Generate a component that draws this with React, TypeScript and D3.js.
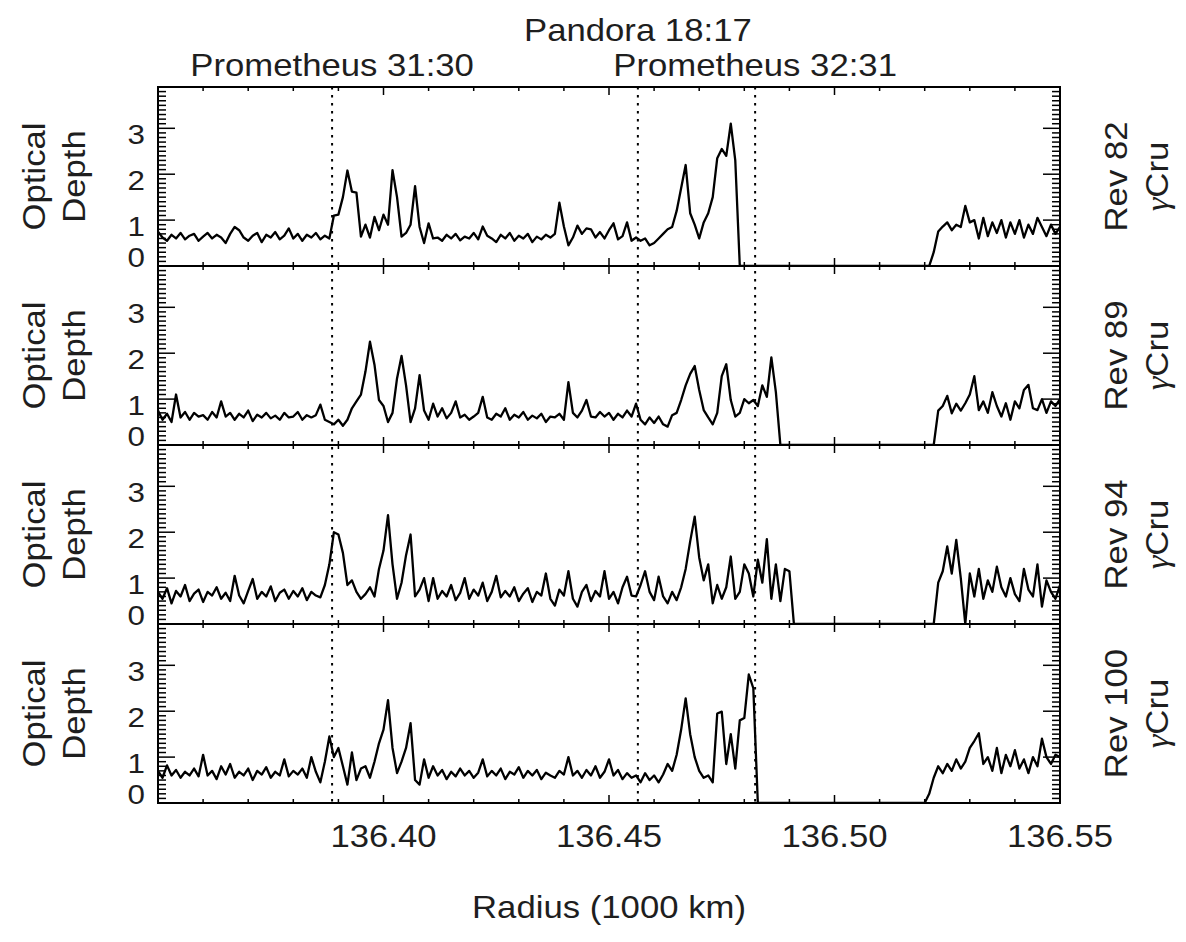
import * as d3 from 'd3';
import type { ReactNode } from 'react';

// radius grid: 136.350 .. 136.550 (1000 km), one sample every 0.001
const R_START = 136.35;
const R_STEP = 0.001;

// optical depth profiles
const tauRev82 = [
  0.75, 0.62, 0.55, 0.68, 0.6, 0.72, 0.58, 0.66, 0.7, 0.55,
  0.64, 0.72, 0.6, 0.68, 0.62, 0.5, 0.7, 0.85, 0.78, 0.62,
  0.55, 0.66, 0.72, 0.52, 0.68, 0.62, 0.74, 0.58, 0.66, 0.82,
  0.6, 0.7, 0.55, 0.68, 0.62, 0.72, 0.58, 0.66,
  0.6, 1.1, 1.12, 1.5, 2.08, 1.62, 1.6, 0.64, 0.9, 0.62,
  1.07, 0.78, 1.12, 0.9, 2.09, 1.5, 0.64, 0.72, 0.9, 1.74,
  0.85, 0.5, 0.93, 0.6,
  0.62, 0.55, 0.68, 0.6, 0.7, 0.56, 0.64, 0.6, 0.72, 0.58,
  0.86, 0.66, 0.6, 0.52, 0.68, 0.6, 0.72, 0.55, 0.66, 0.6,
  0.7, 0.52, 0.64, 0.58, 0.68, 0.62,
  0.7, 1.38, 0.86, 0.45, 0.62, 0.88, 0.7, 0.82, 0.8, 0.62,
  0.74, 0.6, 0.78, 0.93, 0.58, 0.65, 0.95, 0.55, 0.62, 0.55,
  0.6, 0.45, 0.5, 0.6, 0.7, 0.8, 0.85, 1.2, 1.7, 2.2,
  1.15, 0.9, 0.6, 0.95, 1.15, 1.5, 2.35, 2.55, 2.4, 3.1,
  2.3,
  0, 0, 0, 0, 0, 0, 0, 0, 0, 0,
  0, 0, 0, 0, 0, 0, 0, 0, 0, 0,
  0, 0, 0, 0, 0, 0, 0, 0, 0, 0,
  0, 0, 0, 0, 0, 0, 0, 0, 0, 0,
  0, 0, 0,
  0.3,
  0.75, 0.86, 0.95, 0.78, 0.9, 0.85, 1.31, 0.95, 1.0, 0.6,
  1.05, 0.65, 0.95, 0.72, 1.0, 0.62, 0.95, 0.7, 1.0, 0.62,
  0.9, 0.7, 1.05, 0.85, 0.65, 0.9, 0.7, 0.85,
];

const tauRev89 = [
  0.75, 0.55, 0.68, 0.5, 1.1, 0.6, 0.72, 0.55, 0.7, 0.62,
  0.65, 0.55, 0.72, 0.6, 0.95, 0.62, 0.7, 0.55, 0.68, 0.6,
  0.75, 0.52, 0.66, 0.6, 0.7, 0.58, 0.64, 0.55, 0.7, 0.6,
  0.62, 0.72, 0.55, 0.65, 0.6, 0.65, 0.88, 0.55,
  0.5, 0.45, 0.55, 0.42, 0.55, 0.8, 0.95, 1.1, 1.6, 2.25,
  1.75, 0.98, 0.85, 0.5, 0.7, 1.45, 1.94, 1.3, 0.5, 0.8,
  1.52, 0.75, 0.55, 0.9,
  0.62, 0.8, 0.58, 0.7, 0.95, 0.6, 0.66, 0.55, 0.62, 0.7,
  1.05, 0.6, 0.55, 0.68, 0.62, 0.8, 0.55, 0.66, 0.6, 0.72,
  0.55, 0.64, 0.58, 0.68, 0.5, 0.62,
  0.6, 0.68, 0.55, 1.37, 0.7, 0.6, 0.75, 0.98, 0.62, 0.6,
  0.72, 0.62, 0.7, 0.55, 0.68, 0.6, 0.75, 0.62, 0.9, 0.55,
  0.45, 0.6, 0.48, 0.62, 0.45, 0.4, 0.65, 0.7, 0.98, 1.3,
  1.55, 1.72, 1.2, 0.76, 0.6, 0.45, 0.7, 1.5, 1.76, 0.98,
  0.62, 0.7, 1.0, 0.91, 0.98, 0.85, 1.3, 1.05, 1.91, 1.15,
  0, 0, 0, 0, 0, 0, 0, 0, 0, 0,
  0, 0, 0, 0, 0, 0, 0, 0, 0, 0,
  0, 0, 0, 0, 0, 0, 0, 0, 0, 0,
  0, 0, 0, 0, 0,
  0.75, 0.85, 1.07, 0.69, 0.9, 0.75, 0.91, 1.1, 1.5, 0.76,
  0.95, 0.7, 1.15, 0.85, 0.62, 0.91, 0.55, 0.95, 0.8, 1.2,
  1.31, 0.8, 0.76, 1.0, 0.7, 0.95, 0.85, 1.0,
];

const tauRev94 = [
  0.7, 0.55, 0.78, 0.45, 0.72, 0.6, 0.85, 0.5, 0.66, 0.75,
  0.48, 0.7, 0.62, 0.8, 0.55, 0.68, 0.5, 1.05, 0.62, 0.45,
  0.72, 0.98, 0.55, 0.7, 0.6, 0.82, 0.5, 0.68, 0.75, 0.55,
  0.72, 0.6, 0.78, 0.52, 0.7, 0.62, 0.58, 0.85,
  1.3, 2.0, 1.95, 1.55, 0.85, 0.95, 0.7, 0.55, 0.65, 0.8,
  0.6, 1.2, 1.6, 2.37, 1.3, 0.55, 0.9, 1.5, 1.95, 0.6,
  0.75, 1.0, 0.5, 1.0,
  0.55, 0.72, 0.6, 0.85, 0.52, 0.68, 1.0, 0.55, 0.75, 0.62,
  0.9, 0.5, 0.7, 1.05, 0.58, 0.72, 0.6, 0.8, 0.5, 0.66,
  0.78, 0.48, 0.7, 0.62, 1.1, 0.55,
  0.4, 0.75, 0.62, 1.15, 0.55, 0.38, 0.7, 0.85, 0.5, 0.72,
  0.6, 1.15, 0.55, 0.7, 0.45, 0.8, 1.03, 0.62, 0.6, 0.85,
  1.15, 0.7, 0.52, 1.03, 0.6, 0.45, 0.7, 0.52, 0.8, 1.2,
  1.8, 2.34, 1.45, 0.95, 1.3, 0.45, 0.85, 0.55, 0.8, 1.47,
  0.55, 0.7, 1.3, 1.1, 0.6, 1.4, 0.9, 1.85, 0.55, 1.3,
  0.5, 1.2, 1.15,
  0, 0, 0, 0, 0, 0, 0, 0, 0, 0,
  0, 0, 0, 0, 0, 0, 0, 0, 0, 0,
  0, 0, 0, 0, 0, 0, 0, 0, 0, 0,
  0, 0,
  0.9, 1.15, 1.69, 1.1, 1.83, 1.0, 0, 1.1, 0.6, 1.2,
  0.55, 0.95, 0.7, 1.25, 0.8, 0.6, 1.0, 0.65, 0.5, 1.2,
  0.75, 0.6, 1.3, 0.38, 0.95, 0.7, 0.55, 0.85,
];

const tauRev100 = [
  0.7, 0.55, 0.82, 0.6, 0.72, 0.55, 0.68, 0.6, 0.75, 0.58,
  1.05, 0.6, 0.7, 0.52, 0.8, 0.62, 0.85, 0.55, 0.68, 0.6,
  0.75, 0.5, 0.7, 0.62, 0.78, 0.55, 0.68, 0.6, 0.95, 0.58,
  0.7, 0.62, 0.75, 0.55, 1.0, 0.68, 0.45, 0.9,
  1.45, 1.0, 1.2, 0.8, 0.4, 1.1, 0.5, 0.75, 0.8, 0.55,
  0.9, 1.3, 1.6, 2.24, 1.2, 0.65, 0.9, 1.2, 1.74, 0.5,
  0.4, 0.95, 0.55, 0.8,
  0.6, 0.72, 0.52, 0.68, 0.58, 0.75, 0.6, 0.7, 0.55, 0.66,
  0.95, 0.58, 0.7, 0.6, 0.75, 0.52, 0.68, 0.62, 0.78, 0.55,
  0.7, 0.6, 0.72, 0.52, 0.66, 0.6,
  0.55, 0.7, 0.62, 1.0, 0.6, 0.7, 0.55, 0.72, 0.6, 0.8,
  0.55, 0.68, 0.95, 0.6, 0.72, 0.52, 0.65, 0.55, 0.6, 0.45,
  0.65, 0.5, 0.6, 0.45, 0.62, 0.85, 0.7, 1.05, 1.6, 2.28,
  1.5, 1.0, 0.7, 0.55, 0.6, 0.45, 1.95, 1.99, 0.85, 1.5,
  0.75, 1.8, 1.85, 2.8, 2.5,
  0, 0, 0, 0, 0, 0, 0, 0, 0, 0,
  0, 0, 0, 0, 0, 0, 0, 0, 0, 0,
  0, 0, 0, 0, 0, 0, 0, 0, 0, 0,
  0, 0, 0, 0, 0, 0, 0, 0,
  0.2,
  0.55, 0.8, 0.65, 0.85, 0.7, 0.95, 0.75, 0.9, 1.2, 1.35,
  1.52, 0.85, 1.0, 0.7, 1.2, 0.65, 1.05, 0.8, 1.15, 0.75,
  0.95, 0.65, 1.0, 0.8, 1.4, 1.0, 0.85, 1.05, 1.0,
];

const profiles = [tauRev82, tauRev89, tauRev94, tauRev100];
const revLabels = ['Rev 82', 'Rev 89', 'Rev 94', 'Rev 100'];
const starLabel = 'Cru';

const xTickValues = [136.4, 136.45, 136.5, 136.55];
const yTickValues = [0, 1, 2, 3];

const resonanceNames = ['Prometheus 31:30', 'Pandora 18:17', 'Prometheus 32:31'];
const resonanceRadii = [136.3886, 136.4564, 136.4824];
const resonanceRows = [1, 0, 1];

const FONT = "'Liberation Sans', Arial, Helvetica, sans-serif";
const INK = '#1e1e1e';
const STRETCH = 1.12; // the plot's Helvetica is a bit wider than Arial

const W = 1186;
const H = 942;
const left = 158;
const right = 1060;
const top = 87;
const panelH = 179;

// text drawn at (x, y), optionally turned to read bottom-to-top
function Label({
  x,
  y,
  size = 31,
  anchor = 'middle',
  vertical = false,
  children,
}: {
  x: number;
  y: number;
  size?: number;
  anchor?: 'start' | 'middle' | 'end';
  vertical?: boolean;
  children: ReactNode;
}) {
  const tf = `translate(${x},${y})${vertical ? ' rotate(-90)' : ''} scale(${STRETCH},1)`;
  return (
    <text transform={tf} textAnchor={anchor} fontSize={size} fill={INK}>
      {children}
    </text>
  );
}

export default function App() {
  const x = d3.scaleLinear().domain([136.35, 136.55]).range([left, right]);
  const xMinor = x.ticks(20);
  const bottom = top + panelH * profiles.length;

  const line = (y: d3.ScaleLinear<number, number>) =>
    d3
      .line<number>()
      .x((_, i) => x(R_START + i * R_STEP))
      .y(v => y(v));

  return (
    <svg
      width={W}
      height={H}
      style={{ position: 'absolute', left: 0, top: 0, background: '#fff' }}
      fontFamily={FONT}
    >
      <defs>
        {/* keep the zero stretches hidden under the frame */}
        {profiles.map((_, p) => (
          <clipPath key={p} id={`panel-clip-${p}`}>
            <rect x={left} y={top + p * panelH} width={right - left} height={panelH - 1} />
          </clipPath>
        ))}
      </defs>

      {profiles.map((vals, p) => {
        const y0 = top + p * panelH;
        const y = d3.scaleLinear().domain([0, 3.9]).range([y0 + panelH, y0]);
        const yMinor = y.ticks(39);
        const cy = y0 + panelH / 2;
        return (
          <g key={p}>
            <path
              d={line(y)(vals) ?? ''}
              fill="none"
              stroke="#000"
              strokeWidth={2.3}
              strokeLinejoin="round"
              clipPath={`url(#panel-clip-${p})`}
            />
            {/* y ticks, left and right, pointing in */}
            {yMinor.map((t, k) => {
              const major = Math.abs(t - Math.round(t)) < 1e-6;
              const len = major ? 17 : 8;
              return (
                <g key={k} stroke="#000" strokeWidth={1.5}>
                  <line x1={left} x2={left + len} y1={y(t)} y2={y(t)} />
                  <line x1={right} x2={right - len} y1={y(t)} y2={y(t)} />
                </g>
              );
            })}
            {/* x ticks, top and bottom, pointing in */}
            {xMinor.map((t, k) => {
              const major = k % 5 === 0;
              const len = major ? 8 : 4;
              return (
                <g key={k} stroke="#000" strokeWidth={1.5}>
                  <line x1={x(t)} x2={x(t)} y1={y0} y2={y0 + len} />
                  <line x1={x(t)} x2={x(t)} y1={y0 + panelH} y2={y0 + panelH - len} />
                </g>
              );
            })}
            <rect x={left} y={y0} width={right - left} height={panelH} fill="none" stroke="#000" strokeWidth={2} />

            {yTickValues.map(t => (
              <Label key={t} x={145} y={t === 0 ? y(t) + 1 : y(t) + 16} size={28} anchor="end">
                {t}
              </Label>
            ))}
            <Label x={45} y={cy} vertical>Optical</Label>
            <Label x={85} y={cy} vertical>Depth</Label>
            <Label x={1127} y={cy} vertical>{revLabels[p]}</Label>
            <Label x={1168} y={cy} vertical>
              <tspan fontFamily="'Liberation Serif', serif" fontStyle="italic">γ</tspan>
              {starLabel}
            </Label>
          </g>
        );
      })}

      {resonanceRadii.map((r, k) => (
        <g key={k}>
          <line
            x1={x(r)}
            x2={x(r)}
            y1={top}
            y2={bottom}
            stroke="#000"
            strokeWidth={2}
            strokeDasharray="2.5,5.5"
          />
          <Label x={x(r)} y={resonanceRows[k] === 0 ? 41 : 76}>
            {resonanceNames[k]}
          </Label>
        </g>
      ))}

      {xTickValues.map(t => (
        <Label key={t} x={x(t)} y={847}>
          {t.toFixed(2)}
        </Label>
      ))}
      <Label x={(left + right) / 2} y={918}>Radius (1000 km)</Label>
    </svg>
  );
}
